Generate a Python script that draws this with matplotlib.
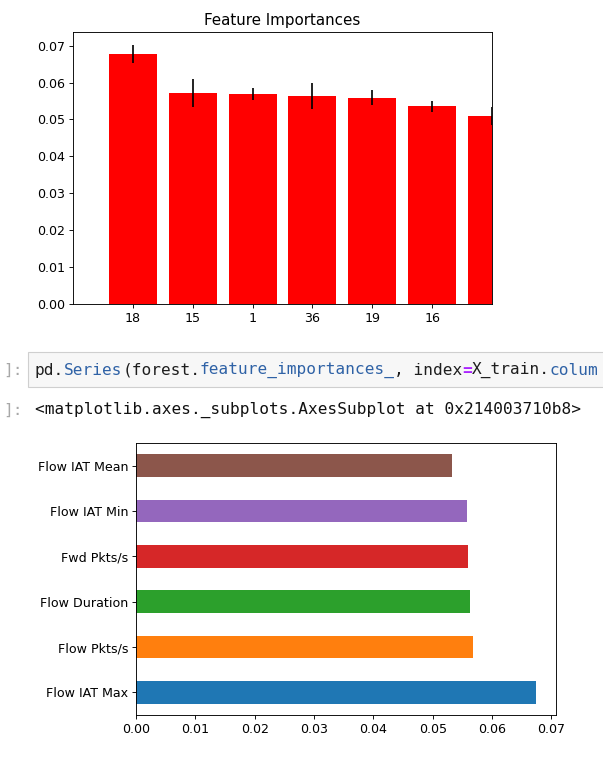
import numpy as np
import matplotlib
matplotlib.use("Agg")
import matplotlib.pyplot as plt
from matplotlib.patches import Rectangle

# ---------------------- Data ----------------------
# top chart: sorted importances with std error bars (7th bar is cut off by xlim)
top_tick_labels = ["18", "15", "1", "36", "19", "16"]
top_importances = [0.0678, 0.0571, 0.0568, 0.0564, 0.0559, 0.0536, 0.0510]
top_std = [0.0024, 0.0038, 0.0016, 0.0035, 0.0020, 0.0015, 0.0025]

# bottom chart: pandas nlargest(6) barh
feature_names = ["Flow IAT Max", "Flow Pkts/s", "Flow Duration",
                 "Fwd Pkts/s", "Flow IAT Min", "Flow IAT Mean"]
feature_values = [0.0674, 0.0568, 0.0562, 0.0560, 0.0557, 0.0532]

out_line = "<matplotlib.axes._subplots.AxesSubplot at 0x214003710b8>"

# ---------------------- Figure ----------------------
W, H = 603, 758
DPI = 80.6  # the notebook screenshot looks like 72 dpi scaled up a bit
plt.rcParams["font.size"] = 11.3
fig = plt.figure(figsize=(W / DPI, H / DPI), dpi=DPI)


def px_box(left, top, right, bottom):
    """pixel box (from the top left) -> figure fraction [l, b, w, h]"""
    return [left / W, 1 - bottom / H, (right - left) / W, (bottom - top) / H]


# ---------------------- Top chart ----------------------
ax1 = fig.add_axes(px_box(73, 32, 492, 304))
x = np.arange(len(top_importances))
ax1.bar(x, top_importances, color="r", yerr=top_std, align="center")
ax1.set_title("Feature Importances")
ax1.set_xticks(range(len(top_tick_labels)))
ax1.set_xticklabels(top_tick_labels)
ax1.set_xlim([-1, 6])

# ---------------------- Notebook cells ----------------------
adv = 9.7  # monospace char advance in px
mono_size = adv / 0.602 * 72 / DPI
prompt_color = "#a8a8a8"

fig.patches.append(Rectangle((28 / W, 1 - 387 / H), 1.0, 35 / H,
                             transform=fig.transFigure, facecolor="#f7f7f7",
                             edgecolor="#cfcfcf", linewidth=1, zorder=0))
fig.text(3 / W, 1 - 370 / H, "]:", family="DejaVu Sans Mono", fontsize=mono_size,
         color=prompt_color, va="center")
fig.text(3 / W, 1 - 410 / H, "]:", family="DejaVu Sans Mono", fontsize=mono_size,
         color=prompt_color, va="center")

# syntax colouring of the code line (it runs off the right edge in the notebook)
dark, blue, purple = "#1e1e1e", "#2f62a6", "#aa22ff"
segments = [("pd.", dark, "normal"), ("Series", blue, "normal"), ("(forest.", dark, "normal"),
            ("feature_importances_", blue, "normal"), (", index", dark, "normal"),
            ("=", purple, "bold"), ("X_train.", dark, "normal"), ("colum", blue, "normal")]
pos = 0
for seg, col, weight in segments:
    fig.text((35 + pos * adv) / W, 1 - 370 / H, seg, family="DejaVu Sans Mono",
             fontsize=mono_size, color=col, weight=weight, va="center")
    pos += len(seg)

fig.text(35 / W, 1 - 410 / H, out_line, family="DejaVu Sans Mono",
         fontsize=mono_size, color="#111111", va="center")

# ---------------------- Bottom chart ----------------------
ax2 = fig.add_axes(px_box(136, 443, 556, 715))
y = np.arange(len(feature_names))
ax2.barh(y, feature_values, height=0.5, color=[f"C{i}" for i in range(len(feature_names))])
ax2.set_yticks(y)
ax2.set_yticklabels(feature_names)
ax2.set_ylim(-0.5, len(feature_names) - 0.5)

fig.savefig("out.png", dpi=DPI)
